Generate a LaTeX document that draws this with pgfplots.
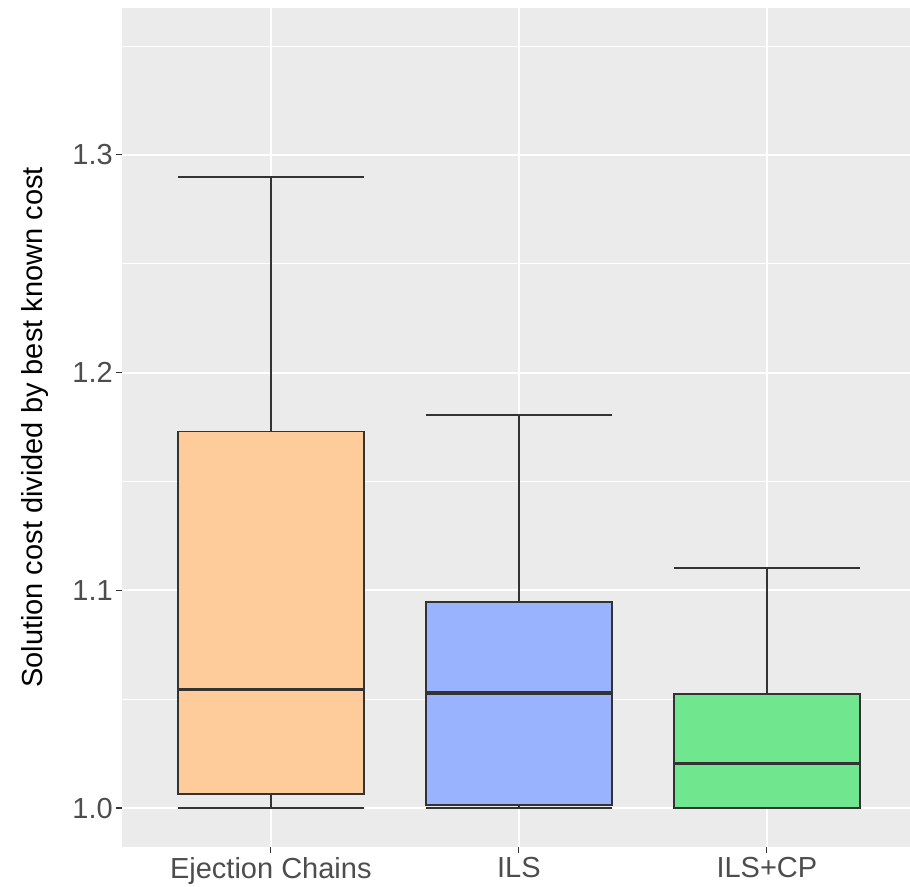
\documentclass[border=0pt]{standalone}
\usepackage{pgfplots}
\pgfplotsset{compat=1.18}
\usepgfplotslibrary{statistics}
\usepackage{fontspec}
\setmainfont{Liberation Sans}
\definecolor{panelbg}{HTML}{EBEBEB}
\definecolor{boxline}{HTML}{333333}
\definecolor{ticktext}{HTML}{4D4D4D}
\definecolor{fillA}{HTML}{FECC9A}
\definecolor{fillB}{HTML}{99B3FF}
\definecolor{fillC}{HTML}{70E68F}
\begin{document}
\begin{tikzpicture}[x=1pt,y=1pt]
\path[use as bounding box] (0,0) rectangle (910,886);
\begin{axis}[
  at={(122pt,39pt)}, anchor=south west,
  scale only axis, width=788pt, height=839pt,
  xmin=-0.6, xmax=2.577,
  ymin=0.9821, ymax=1.3675,
  axis background/.style={fill=panelbg},
  axis line style={draw=none},
  tick align=outside,
  major tick length=6pt,
  minor tick length=0pt,
  tick style={boxline, line width=1.1pt},
  xtick={0,1,2},
  xticklabels={Ejection Chains, ILS, ILS+CP},
  ytick={1.0,1.1,1.2,1.3},
  yticklabels={1.0,1.1,1.2,1.3},
  minor ytick={1.05,1.15,1.25,1.35},
  xtick pos=bottom, ytick pos=left,
  grid=both,
  major grid style={white, line width=2pt},
  minor grid style={white, line width=1pt},
  minor x tick num=0,
  tick label style={font=\fontsize{29}{34}\selectfont, text=ticktext, inner sep=0pt},
  yticklabel style={xshift=-3pt},
  xticklabel style={yshift=-4pt},
  ylabel={Solution cost divided by best known cost},
  ylabel style={font=\fontsize{29}{34}\selectfont, at={(ticklabel cs:0.5)}, yshift=20pt},
  boxplot/draw direction=y,
  boxplot/every median/.style={line width=3.3pt},
  boxplot/every whisker/.style={line width=1.7pt},
  boxplot/every box/.style={line width=1.7pt},
]
\addplot[boxplot prepared={draw position=0, lower whisker=1.0, lower quartile=1.0064, median=1.0546, upper quartile=1.1729, upper whisker=1.2899, box extend=0.75, whisker extend=0.75}, draw=boxline, fill=fillA, mark=none] coordinates {};
\addplot[boxplot prepared={draw position=1, lower whisker=1.0, lower quartile=1.0015, median=1.0528, upper quartile=1.0946, upper whisker=1.1806, box extend=0.75, whisker extend=0.75}, draw=boxline, fill=fillB, mark=none] coordinates {};
\addplot[boxplot prepared={draw position=2, lower whisker=1.0, lower quartile=1.0, median=1.0203, upper quartile=1.0525, upper whisker=1.1102, box extend=0.75, whisker extend=0.75}, draw=boxline, fill=fillC, mark=none] coordinates {};
\end{axis}
\end{tikzpicture}
\end{document}
